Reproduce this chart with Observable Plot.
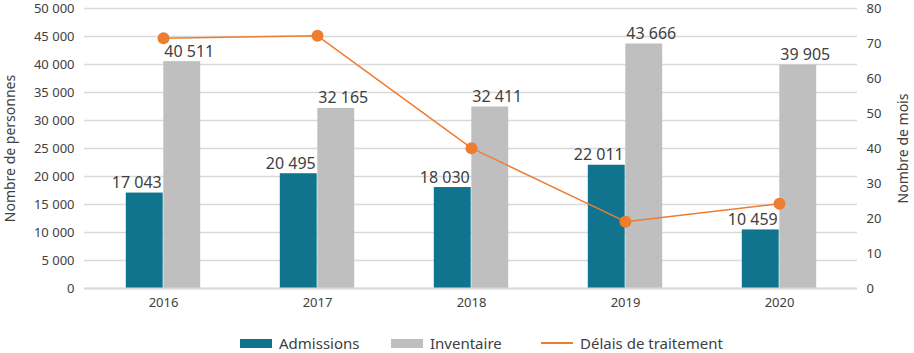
<!DOCTYPE html>
<html><head><meta charset="utf-8">
<script src="https://cdn.jsdelivr.net/npm/d3@7"></script>
<script src="https://cdn.jsdelivr.net/npm/@observablehq/plot@0.6"></script>
<style>
body{margin:0;background:#fff;font-family:"Noto Sans",sans-serif;color:#404040;overflow:hidden;width:914px;height:353px;position:relative}
#legend{position:absolute;left:0;top:332px;width:914px;height:22px;font-size:15px;color:#404040}
#legend .item{position:absolute;top:0;display:flex;align-items:center;height:22px}
#legend .sw{display:inline-block;margin-right:7px}
</style></head><body>
<div id="chart"></div>
<div id="legend">
<div class="item" style="left:240px"><span class="sw" style="width:32px;height:9px;background:#10748f"></span>Admissions</div>
<div class="item" style="left:391px"><span class="sw" style="width:32px;height:9px;background:#bfbfbf"></span>Inventaire</div>
<div class="item" style="left:541px"><span class="sw" style="width:32px;height:2px;background:#ed7d31"></span>Délais de traitement</div>
</div>
<script>
const years = ["2016","2017","2018","2019","2020"];
const admissions = [17043, 20495, 18030, 22011, 10459];
const inventaire = [40511, 32165, 32411, 43666, 39905];
const delais = [71.5, 72.2, 40.1, 19.1, 24.2];
const leftTicks = [0,5000,10000,15000,20000,25000,30000,35000,40000,45000,50000];
const rightTicks = [0,10,20,30,40,50,60,70,80];

const K = 50000/80;
const fmt = d => String(d).replace(/\B(?=(\d{3})+(?!\d))/g, " ");
const adm = years.map((y,i)=>({year:y, v:admissions[i]}));
const inv = years.map((y,i)=>({year:y, v:inventaire[i]}));
const del = years.map((y,i)=>({year:y, v:delais[i]*K}));
const teal="#10748f", gray="#bfbfbf", orange="#ed7d31", txt="#404040";
const BW = 37.5;

const chart = Plot.plot({
  width: 914, height: 322,
  marginLeft: 84, marginRight: 57, marginTop: 8, marginBottom: 34,
  style: {fontFamily: "Noto Sans, sans-serif", fontSize: "13px", color: txt, background: "#fff"},
  x: {type: "band", domain: years, padding: 0},
  y: {domain: [0, 50000]},
  marks: [
    Plot.gridY(leftTicks, {stroke: "#d9d9d9", strokeWidth: 1.5, strokeOpacity: 1}),
    Plot.axisX({tickSize: 0, tickPadding: 9, label: null, fontSize: 13}),
    Plot.axisY({ticks: leftTicks, tickSize: 0, tickPadding: 10, tickFormat: fmt, label: null}),
    Plot.axisY({anchor: "right", ticks: rightTicks.map(d=>d*K), tickSize: 0, tickPadding: 9, tickFormat: d => Math.round(d/K), label: null}),
    Plot.text(["Nombre de personnes"], {frameAnchor: "left", textAnchor: "middle", dx: -74, rotate: -90, fontSize: 14, fill: txt}),
    Plot.text(["Nombre de mois"], {frameAnchor: "right", textAnchor: "middle", dx: 46, rotate: -90, fontSize: 14, fill: txt}),
    Plot.barY(adm, {x: "year", y: "v", fill: teal, insetLeft: (154.6-BW)/2, insetRight: (154.6-BW)/2, dx: -BW/2}),
    Plot.barY(inv, {x: "year", y: "v", fill: gray, insetLeft: (154.6-BW)/2, insetRight: (154.6-BW)/2, dx: BW/2}),
    Plot.ruleY([0], {stroke: "#d9d9d9", strokeWidth: 2}),
    Plot.text(adm, {x: "year", y: "v", text: d => fmt(d.v), dx: -BW/2 - 8, dy: -5, lineAnchor: "bottom", fontSize: 16, fill: txt}),
    Plot.text(inv, {x: "year", y: "v", text: d => fmt(d.v), dx: BW/2 + 7, dy: -5, lineAnchor: "bottom", fontSize: 16, fill: txt}),
    Plot.line(del, {x: "year", y: "v", stroke: orange, strokeWidth: 1.5}),
    Plot.dot(del, {x: "year", y: "v", r: 6, fill: orange, stroke: "none"})
  ]
});
document.getElementById("chart").appendChild(chart);
</script>
</body></html>
